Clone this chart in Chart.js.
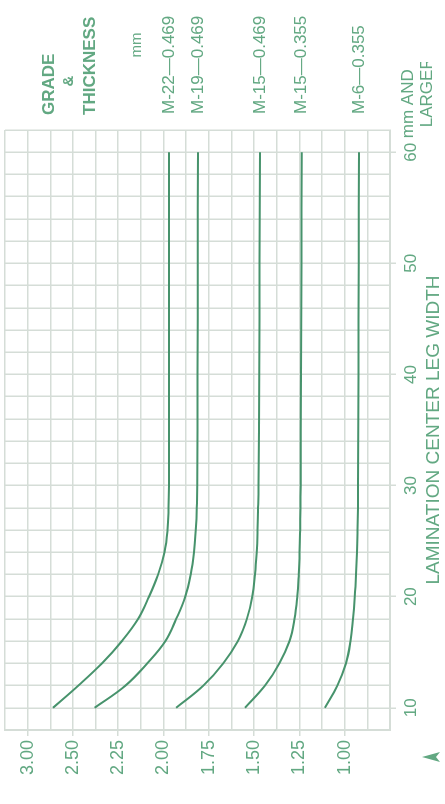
<!DOCTYPE html>
<html>
<head>
<meta charset="utf-8">
<script src="https://cdn.jsdelivr.net/npm/chart.js@4"></script>
<style>
  html, body { margin: 0; padding: 0; background: #fff; overflow: hidden; }
  #wrap {
    position: absolute; left: 0; top: 0;
    width: 804px; height: 445px;
    transform-origin: 0 0;
    transform: translateY(804px) rotate(-90deg);
  }
</style>
</head>
<body>
<div id="wrap"><canvas id="chart" width="804" height="445"></canvas></div>
<script>
// lamination center leg width (mm)
const legWidth = [10, 12, 14, 16, 18, 20, 22, 24, 26, 28, 30, 40, 50, 60];

// curves, one per grade & thickness
const m22_469 = [2.61, 2.47, 2.34, 2.23, 2.14, 2.08, 2.03, 1.995, 1.978, 1.972, 1.97, 1.97, 1.97, 1.97];
const m19_469 = [2.38, 2.21, 2.09, 1.99, 1.93, 1.88, 1.85, 1.832, 1.822, 1.816, 1.814, 1.812, 1.811, 1.81];
const m15_469 = [1.93, 1.78, 1.67, 1.59, 1.54, 1.51, 1.495, 1.486, 1.481, 1.478, 1.476, 1.472, 1.47, 1.468];
const m15_355 = [1.55, 1.44, 1.36, 1.305, 1.277, 1.262, 1.254, 1.249, 1.246, 1.244, 1.243, 1.241, 1.239, 1.237];
const m6_355  = [1.11, 1.04, 0.993, 0.968, 0.954, 0.944, 0.937, 0.932, 0.929, 0.927, 0.926, 0.924, 0.923, 0.921];

const seriesLabels = ['M-22\u20140.469', 'M-19\u20140.469', 'M-15\u20140.469', 'M-15\u20140.355', 'M-6\u20140.355'];
const seriesValues = [m22_469, m19_469, m15_469, m15_355, m6_355];

// tick labels as printed (the top one reads 3.00)
const yTickValues = [1.00, 1.25, 1.50, 1.75, 2.00, 2.25, 2.50, 2.75];
const yTickLabels = ['1.00', '1.25', '1.50', '1.75', '2.00', '2.25', '2.50', '3.00'];
const xTickValues = [10, 20, 30, 40, 50, 60];

const GREEN_TEXT = '#62a882';
const GREEN_LINE = '#47936c';
const GRID = '#d5ddd7';
const FONT = "'Liberation Sans', Arial, sans-serif";

// labels at the right hand end of the curves + header + notes
const sideText = {
  id: 'sideText',
  afterDraw(chart) {
    const { ctx, chartArea, scales } = chart;
    const y = scales.y;
    const last = legWidth.length - 1;
    ctx.save();
    ctx.fillStyle = GREEN_TEXT;
    ctx.textBaseline = 'middle';

    ctx.font = '17px ' + FONT;
    ctx.textAlign = 'left';
    seriesValues.forEach((vals, i) => {
      ctx.fillText(seriesLabels[i], chartArea.right + 16, y.getPixelForValue(vals[last]));
    });

    ctx.font = 'bold 17px ' + FONT;
    ctx.fillText('GRADE', 689, 49);
    ctx.fillText('THICKNESS', 689, 90);
    ctx.textAlign = 'center';
    ctx.font = 'bold 15px ' + FONT;
    ctx.fillText('&', 723, 69);
    ctx.font = '15px ' + FONT;
    ctx.fillText('mm', 759, 137);

    // "60 mm AND LARGER", cut off like the scan
    ctx.save();
    ctx.beginPath();
    ctx.rect(0, 0, 742, 445);
    ctx.clip();
    ctx.textAlign = 'left';
    ctx.font = '17px ' + FONT;
    const x60 = scales.x.getPixelForValue(60);
    ctx.fillText('mm AND', x60 + 14, 408);
    ctx.fillText('LARGER', x60 + 25, 427);
    ctx.restore();

    // small arrow in the corner
    ctx.beginPath();
    ctx.moveTo(47, 422);
    ctx.lineTo(52, 440);
    ctx.lineTo(47, 436);
    ctx.lineTo(42, 440);
    ctx.closePath();
    ctx.fill();
    ctx.restore();
  }
};

new Chart(document.getElementById('chart'), {
  type: 'line',
  data: {
    datasets: seriesValues.map((vals, i) => ({
      label: seriesLabels[i],
      data: legWidth.map((w, j) => ({ x: w, y: vals[j] })),
      borderColor: GREEN_LINE,
      borderWidth: 2,
      pointRadius: 0,
      tension: 0.4,
      fill: false
    }))
  },
  options: {
    responsive: false,
    animation: false,
    devicePixelRatio: 1,
    layout: { padding: { left: 0, right: 130, top: 5, bottom: 0 } },
    plugins: { legend: { display: false }, tooltip: { enabled: false } },
    scales: {
      x: {
        type: 'linear',
        min: 8,
        max: 62,
        afterFit: s => { s.height = 55; s.paddingLeft = 0; s.paddingRight = 0; },
        grid: {
          color: GRID,
          lineWidth: 1.5,
          tickLength: 6,
          tickColor: c => (c.tick && xTickValues.includes(Math.round(c.tick.value * 100) / 100)) ? GRID : 'rgba(0,0,0,0)'
        },
        border: { color: GRID, width: 2 },
        ticks: {
          stepSize: 2,
          autoSkip: false,
          maxRotation: 0,
          padding: 5,
          color: GREEN_TEXT,
          font: { family: FONT, size: 17 },
          callback: v => xTickValues.includes(Math.round(v * 100) / 100) ? String(Math.round(v)) : ''
        },
        title: {
          display: true,
          text: 'LAMINATION CENTER LEG WIDTH',
          color: GREEN_TEXT,
          font: { family: FONT, size: 19 },
          padding: { top: 0, bottom: 0 }
        }
      },
      y: {
        type: 'linear',
        min: 0.75,
        max: 2.875,
        afterFit: s => { s.width = 74; s.paddingTop = 0; s.paddingBottom = 0; },
        grid: {
          color: GRID,
          lineWidth: 1.5,
          tickLength: 6,
          tickColor: c => (c.tick && yTickValues.some(t => Math.abs(t - c.tick.value) < 1e-6)) ? GRID : 'rgba(0,0,0,0)'
        },
        border: { color: GRID, width: 2 },
        ticks: {
          stepSize: 0.125,
          autoSkip: false,
          padding: 4,
          color: GREEN_TEXT,
          font: { family: FONT, size: 18 },
          callback: v => {
            const i = yTickValues.findIndex(t => Math.abs(t - v) < 1e-6);
            return i >= 0 ? yTickLabels[i] : '';
          }
        }
      }
    }
  },
  plugins: [sideText]
});
</script>
</body>
</html>
